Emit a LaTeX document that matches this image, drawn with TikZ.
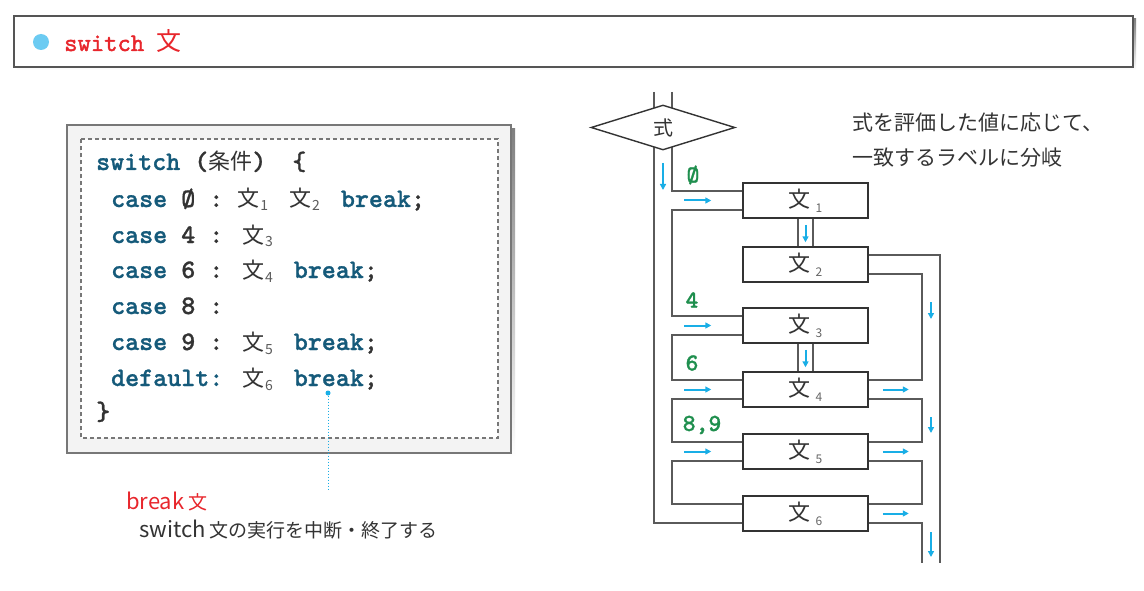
\documentclass[tikz,border=0pt]{standalone}
\usepackage{fontspec}
\setmainfont{Noto Sans CJK JP}
\newfontfamily\jpfont{Noto Sans CJK JP}
\newfontfamily\codefont{lmmonolt10-bold}[Extension=.otf, FakeBold=1]
\newfontfamily\titlemono{lmmono10-regular}[Extension=.otf, FakeBold=1.6]
\usetikzlibrary{
  arrows.meta,
  positioning,
  calc,
  shapes.geometric,
  backgrounds,
}
\definecolor{ink}{HTML}{333333}
\definecolor{frame}{HTML}{555555}
\definecolor{shade}{HTML}{A8A8A8}
\definecolor{paneg}{HTML}{F3F3F3}
\definecolor{keyteal}{HTML}{155A7A}
\definecolor{caseg}{HTML}{1F8F4E}
\definecolor{flowblue}{HTML}{19AEE6}
\definecolor{pipeg}{HTML}{5A5A5A}
\definecolor{alert}{HTML}{E8262C}
\definecolor{dotblue}{HTML}{6CCBF2}
\newcommand{\kw}[1]{\textcolor{keyteal}{#1}}
\newcommand{\cjk}[1]{{\jpfont\fontsize{22}{22}\selectfont #1}}
\newcommand{\bun}[1]{{\jpfont\fontsize{22}{22}\selectfont 文}\kern1pt\raisebox{-4pt}{\jpfont\fontsize{14}{14}\selectfont\color{ink!80}#1}\kern7pt\relax}
\newcommand{\boxlabel}[1]{{\fontsize{22}{22}\selectfont 文}\kern5pt\raisebox{-5pt}{\fontsize{12}{12}\selectfont\color{ink!75}#1}}
\newcommand{\latin}[1]{{\fontsize{22}{22}\selectfont #1}}
\tikzset{
  >={Triangle[length=6pt,width=6pt]},
  pipe/.style={draw=pipeg, line width=1.6pt},
  stmtbox/.style={
    draw=ink,
    fill=white,
    line width=1.5pt,
    minimum width=125pt,
    minimum height=35pt,
    inner sep=0pt,
    text=ink,
  },
  decision/.style={
    shape=diamond,
    aspect=3.2,
    draw=ink,
    fill=white,
    line width=1.4pt,
    minimum width=144pt,
    minimum height=45pt,
    inner sep=0pt,
    text=ink,
    font=\jpfont\fontsize{20}{20}\selectfont,
  },
  flowarrow/.style={draw=flowblue, line width=2pt, ->},
  caselabel/.style={text=caseg, inner sep=0pt, font=\codefont\fontsize{24.5}{24}\selectfont},
  codeline/.style={anchor=base west, inner sep=0pt, text=ink, font=\codefont\fontsize{26.7}{30}\selectfont},
  note/.style={anchor=base west, inner sep=0pt, text=ink, font=\jpfont\fontsize{21}{21}\selectfont},
}
\begin{document}
\begin{tikzpicture}[x=1pt,y=-1pt]
  \begin{scope}[on background layer]
    \fill[white] (0,0) rectangle (1144,591);
  \end{scope}
  \useasboundingbox (0,0) rectangle (1144,591);

  % --- title bar ---
  \fill[shade] (17,19) rectangle (1136,70);
  \filldraw[draw=frame, fill=white, line width=1.2pt] (14,16) rectangle (1133,67);
  \fill[dotblue] (41,42) circle (8);
  \node[anchor=base west, inner sep=0pt, text=alert, font=\titlemono\fontsize{25.4}{26}\selectfont]
    (title) at (64,51) {switch\kern12pt{\jpfont\fontsize{25}{25}\selectfont 文}};

  % --- code panel ---
  \fill[shade] (71,129) rectangle (515,457);
  \filldraw[draw=frame!80, fill=paneg, line width=1.2pt] (67,125) rectangle (511,453);
  \filldraw[draw=frame!80, fill=white, dash pattern=on 4pt off 3pt, line width=1.1pt] (81,139) rectangle (498,438);

  \node[codeline] (code1) at (96,170) {\kw{switch} (\cjk{条件})\kern12pt\ \{};
  \node[codeline] (code2) at (111,207) {\kw{case} Ø : \bun{1} \bun{2} \kw{break};};
  \node[codeline] (code3) at (111,243) {\kw{case} 4 : \bun{3}};
  \node[codeline] (code4) at (111,278) {\kw{case} 6 : \bun{4} \kw{break};};
  \node[codeline] (code5) at (111,314) {\kw{case} 8 :};
  \node[codeline] (code6) at (111,350) {\kw{case} 9 : \bun{5} \kw{break};};
  \node[codeline] (code7) at (111,386) {\kw{default:} \bun{6} \kw{break};};
  \node[codeline] (code8) at (96,420) {\}};

  % break callout
  \node[circle, fill=flowblue, inner sep=0pt, minimum size=5pt] (brkdot) at (328,393) {};
  \coordinate (brkend) at (328,490);
  \draw[flowblue, dotted, line width=1pt] (brkdot) -- (brkend);
  \node[anchor=base west, inner sep=0pt, text=alert, font=\fontsize{19}{19}\selectfont]
    (brknote) at (126,509) {\latin{break} 文};
  \node[anchor=base west, inner sep=0pt, text=ink, font=\fontsize{19}{19}\selectfont]
    (brkdesc) at (139,537) {\latin{switch} 文の実行を中断・終了する};

  % --- flowchart ---
  \node[decision] (expr) at (663,127.5) {式};
  \foreach \i/\y in {1/200.5, 2/264.5, 3/325.5, 4/389.5, 5/451.5, 6/513.5} {
    \node[stmtbox] (s\i) at (805.5,\y) {\boxlabel{\i}};
    \coordinate (s\i-lu) at ([yshift=-8.5pt]s\i.north west);
    \coordinate (s\i-ll) at ([yshift=8.5pt]s\i.south west);
    \coordinate (s\i-ru) at ([yshift=-8.5pt]s\i.north east);
    \coordinate (s\i-rl) at ([yshift=8.5pt]s\i.south east);
  }
  \coordinate (pipeL) at (654,92);
  \coordinate (pipeLi) at (672,92);
  \coordinate (exitR) at (940,563);
  \coordinate (exitRi) at (922,563);

  \begin{scope}[on background layer]
    \draw[pipe] (pipeL) |- (s6-ll);
    \draw[pipe] (pipeLi) |- (s1-lu);
    \foreach \a/\b in {1/3,3/4,4/5,5/6} {
      \draw[pipe] (s\a-ll) -- (s\a-ll -| pipeLi) -- (s\b-lu -| pipeLi) -- (s\b-lu);
    }
    \draw[pipe] (s2-ru) -| (exitR);
    \foreach \a/\b in {2/4,4/5,5/6} {
      \draw[pipe] (s\a-rl) -- (s\a-rl -| exitRi) -- (s\b-ru -| exitRi) -- (s\b-ru);
    }
    \draw[pipe] (s6-rl) -| (exitRi);
    \foreach \a/\b in {1/2,3/4} {
      \draw[pipe] ([xshift=-7.5pt]s\a.south) -- ([xshift=-7.5pt]s\b.north);
      \draw[pipe] ([xshift=7.5pt]s\a.south) -- ([xshift=7.5pt]s\b.north);
    }
  \end{scope}

  % flow arrows
  \draw[flowarrow] (663,163) -- (663,190);
  \foreach \i in {1,3,4,5} {
    \draw[flowarrow] ([xshift=-58pt]s\i.west) -- ([xshift=-31pt]s\i.west);
  }
  \foreach \i in {4,5,6} {
    \draw[flowarrow] ([xshift=14pt]s\i.east) -- ([xshift=40pt]s\i.east);
  }
  \foreach \a/\b in {1/2,3/4} {
    \draw[flowarrow] ([yshift=-6pt]s\a.south) -- ([yshift=4pt]s\b.north);
  }
  \draw[flowarrow] (931,302) -- (931,319);
  \draw[flowarrow] (931,417) -- (931,433);
  \draw[flowarrow] (931,532) -- (931,557);

  \node[caselabel] (case0) at (693,175) {Ø};
  \node[caselabel] (case4) at (692,300) {4};
  \node[caselabel] (case6) at (692,363) {6};
  \node[caselabel] (case89) at (702,425) {8,9};

  \node[note] (expl1) at (852,131) {式を評価した値に応じて、};
  \node[note] (expl2) at (852,166) {一致するラベルに分岐};
\end{tikzpicture}
\end{document}
